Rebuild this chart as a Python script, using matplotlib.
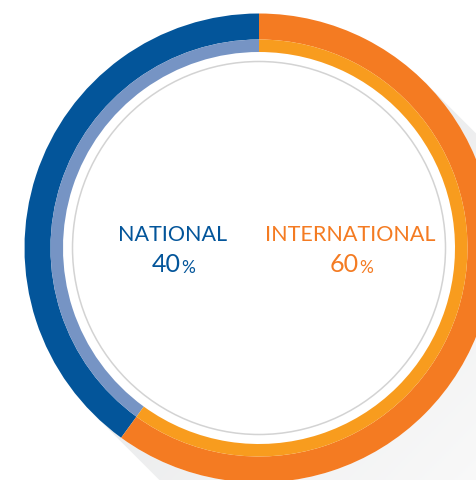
import numpy as np
import matplotlib.pyplot as plt
from matplotlib.patches import Polygon, Circle
from matplotlib.colors import LinearSegmentedColormap

# data
labels = ["NATIONAL", "INTERNATIONAL"]
shares = [40, 60]
outer_colors = ["#03559a", "#f47b22"]
inner_colors = ["#7694c4", "#f89c1e"]
text_colors = ["#03559a", "#f47b22"]

W, H = 477, 481
cx, cy = 259, H - 249
r_out, w_out = 234.5, 26
r_in, w_in = r_out - w_out, 12.5
r_line = 186.5

fig = plt.figure(figsize=(W / 100, H / 100), dpi=100)
ax = fig.add_axes([0, 0, 1, 1])

# long shadow going down-right
d = np.array([1, -1]) / np.sqrt(2)
n = np.array([1, 1]) / np.sqrt(2)
c = np.array([cx, cy])
L = 800
t1, t2 = c + r_out * n, c - r_out * n
shadow = Polygon([t1, t1 + L * d, t2 + L * d, t2], closed=True, fc="none", ec="none")
ax.add_patch(shadow)
xx, yy = np.meshgrid(np.linspace(0, W, 200), np.linspace(0, H, 200))
grad = ((xx - cx) * d[0] + (yy - cy) * d[1]) / 330
cmap = LinearSegmentedColormap.from_list("sh", ["#ebeced", "#f9f9f9"])
im = ax.imshow(grad, extent=(0, W, 0, H), origin="lower", cmap=cmap,
               vmin=0, vmax=1, zorder=0, aspect="auto")
im.set_clip_path(shadow)

ax.add_patch(Circle((cx, cy), r_out, fc="white", ec="none", zorder=1))

ax.pie(shares, radius=r_out, center=(cx, cy), colors=outer_colors,
       startangle=90, counterclock=True,
       wedgeprops=dict(width=w_out, linewidth=0, zorder=2))
ax.pie(shares, radius=r_in, center=(cx, cy), colors=inner_colors,
       startangle=90, counterclock=True,
       wedgeprops=dict(width=w_in, linewidth=0, zorder=2))

ax.add_patch(Circle((cx, cy), r_line, fc="none", ec="#d3d3d3", lw=1.1, zorder=3))

# labels
font = dict(family=["Lato", "DejaVu Sans"], weight="normal")
label_x = [172.5, 350.5]
for i, lab in enumerate(labels):
    ax.text(label_x[i], H - 241.5, lab, color=text_colors[i], fontsize=15.5,
            ha="center", va="baseline", zorder=4, **font)
    num = ax.text(label_x[i] - 6, H - 272.5, f"{shares[i]}", color=text_colors[i],
                  fontsize=18, ha="center", va="baseline", zorder=4, **font)
    ax.annotate("%", xy=(1, 0), xycoords=num, xytext=(0, 0.6), textcoords="offset points",
                color=text_colors[i], fontsize=12.5, ha="left", va="bottom", zorder=4, **font)

ax.set_xlim(0, W)
ax.set_ylim(0, H)
ax.set_aspect("auto")
ax.axis("off")

plt.savefig("out.png", dpi=100)
